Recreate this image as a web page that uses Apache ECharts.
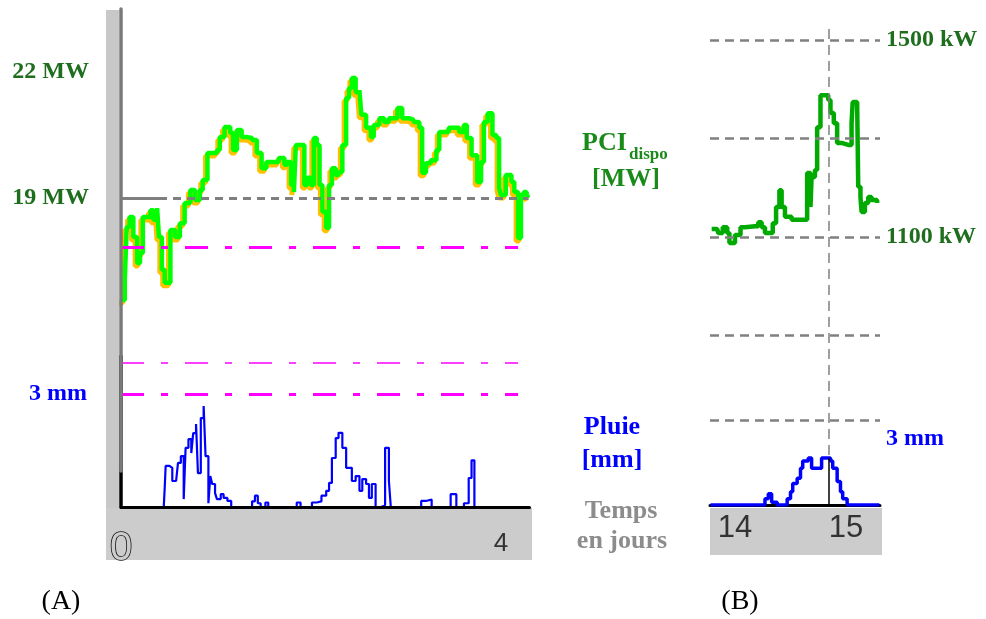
<!DOCTYPE html>
<html><head><meta charset="utf-8">
<script src="https://cdn.jsdelivr.net/npm/echarts@6/dist/echarts.min.js"></script>
<style>html,body{margin:0;padding:0;background:#fff}#c{width:986px;height:619px}</style>
</head><body><div id="c"></div>
<script>
// ---------- DATA ----------
// (A) PCI dispo [MW] versus time [days]
const pciDaysA = [0, 0.01, 0.04, 0.06, 0.09, 0.13, 0.17, 0.20, 0.23, 0.27, 0.31, 0.34, 0.38, 0.40, 0.43, 0.46, 0.49, 0.52, 0.57, 0.62, 0.67, 0.73, 0.78, 0.83, 0.86, 0.91, 0.96, 1.01, 1.04, 1.09, 1.15, 1.18, 1.22, 1.27, 1.33, 1.38, 1.43, 1.48, 1.53, 1.58, 1.63, 1.66, 1.72, 1.75, 1.79, 1.82, 1.84, 1.89, 1.93, 1.96, 2.00, 2.03, 2.06, 2.09, 2.12, 2.16, 2.19, 2.22, 2.26, 2.29, 2.33, 2.37, 2.40, 2.43, 2.47, 2.51, 2.53, 2.58, 2.63, 2.66, 2.72, 2.77, 2.82, 2.87, 2.91, 2.96, 3.03, 3.08, 3.14, 3.17, 3.21, 3.26, 3.32, 3.35, 3.40, 3.45, 3.51, 3.56, 3.61, 3.64, 3.69, 3.75, 3.79, 3.82, 3.86, 3.91, 3.95, 3.98, 4.00, 4.05, 4.11, 4.14, 4.18, 4.21, 4.24, 4.27, 4.29];
const pciMwA = [16.57, 16.57, 17.05, 18.31, 18.55, 18.07, 17.45, 17.69, 18.55, 18.55, 18.71, 18.48, 18.76, 18.07, 17.29, 16.98, 16.98, 18.24, 18.07, 18.40, 18.88, 19.19, 18.95, 19.19, 19.43, 20.07, 20.07, 20.14, 20.45, 20.69, 20.55, 20.14, 20.62, 20.45, 20.43, 20.38, 20.07, 19.71, 19.86, 19.86, 19.86, 19.95, 19.79, 19.86, 19.31, 19.14, 20.26, 20.26, 19.31, 19.48, 19.31, 20.43, 20.26, 19.31, 18.67, 18.29, 19.31, 19.71, 19.55, 19.62, 20.26, 21.38, 21.62, 21.86, 21.52, 21.57, 20.98, 20.67, 20.45, 20.74, 20.90, 20.81, 20.90, 20.90, 21.14, 20.90, 20.86, 20.81, 20.67, 19.60, 19.83, 19.90, 20.14, 20.57, 20.57, 20.67, 20.67, 20.57, 20.74, 20.43, 20.02, 19.38, 19.86, 20.81, 21.02, 20.50, 20.43, 19.24, 19.07, 19.55, 19.38, 19.14, 18.05, 19.07, 19.14, 19.07, 19.00];
// (A) Pluie [mm]
const rainDaysA = [0, 0.45, 0.46, 0.47, 0.51, 0.54, 0.58, 0.60, 0.63, 0.66, 0.68, 0.71, 0.74, 0.76, 0.79, 0.81, 0.84, 0.87, 0.89, 0.92, 0.94, 0.96, 0.99, 1.01, 1.05, 1.08, 1.12, 1.16, 1.38, 1.41, 1.44, 1.47, 1.52, 1.55, 1.85, 1.89, 2.01, 2.06, 2.11, 2.16, 2.19, 2.22, 2.26, 2.29, 2.33, 2.37, 2.40, 2.43, 2.47, 2.51, 2.54, 2.58, 2.61, 2.64, 2.68, 2.74, 2.78, 2.82, 2.84, 3.16, 3.21, 3.27, 3.47, 3.53, 3.61, 3.66, 3.69, 3.72, 4.30];
const rainMmA = [0, 0, 0.5, 1.09, 1.04, 0.69, 0.69, 1.17, 1.35, 0.21, 1.57, 1.8, 1.43, 1.96, 2.2, 0.9, 2.36, 2.68, 1.35, 0.1, 0.82, 0.61, 0.37, 0.21, 0.34, 0.24, 0.16, 0, 0.15, 0.3, 0.1, 0, 0.12, 0, 0.12, 0, 0.12, 0.15, 0.3, 0.43, 0.64, 1.3, 1.83, 1.97, 1.57, 1.04, 1.04, 0.69, 0.82, 0.43, 0.74, 0.61, 0.24, 0.61, 0, 0.05, 1.57, 0.69, 0, 0.16, 0.2, 0, 0.34, 0, 0.1, 0.77, 1.24, 0, 0];
// (B) PCI dispo [kW]
const pciDaysB = [13.79, 13.84, 13.85, 13.89, 13.93, 13.95, 14.00, 14.05, 14.09, 14.18, 14.21, 14.24, 14.27, 14.32, 14.34, 14.37, 14.40, 14.42, 14.45, 14.51, 14.63, 14.65, 14.68, 14.69, 14.72, 14.74, 14.77, 14.81, 14.84, 14.86, 14.89, 14.92, 14.96, 15.02, 15.05, 15.06, 15.10, 15.11, 15.13, 15.14, 15.17, 15.20, 15.23, 15.28];
const pciKwB = [1116, 1116, 1108, 1120, 1108, 1088, 1104, 1120, 1122, 1122, 1130, 1120, 1108, 1108, 1128, 1161, 1195, 1161, 1141, 1135, 1135, 1230, 1161, 1222, 1236, 1323, 1388, 1388, 1378, 1352, 1331, 1291, 1287, 1287, 1331, 1374, 1372, 1202, 1181, 1151, 1169, 1181, 1175, 1169];
// (B) Pluie [mm]
const rainDaysB = [13.78, 14.27, 14.30, 14.33, 14.38, 14.47, 14.50, 14.52, 14.56, 14.59, 14.61, 14.66, 14.69, 14.78, 14.86, 14.88, 14.92, 14.95, 14.97, 15.01, 15.30];
const rainMmB = [0, 0.22, 0.4, 0.1, 0, 0.22, 0.47, 0.76, 0.94, 1.3, 1.55, 1.66, 1.3, 1.66, 1.55, 1.3, 0.83, 0.47, 0.22, 0, 0];
// ticks / reference levels
const mwTicksA = [19, 22];
const dayTicksA = [0, 4];
const mmTicksA = [3];
const refMwA = 19;
const thresholdMwA = 17.83;
const rainThresholdsA = [3, 3.82];
const kwTicksB = [1100, 1500];
const kwGridB = [900, 1100, 1300, 1500];
const dayTicksB = [14, 15];
const mmTicksB = [3];
const peakDayB = 14.84;
const peakRainB = 1.66;

// ---------- STYLE ----------
const serif = '"Liberation Serif", "Times New Roman", serif';
const sans = '"Liberation Sans", Arial, sans-serif';
const darkGreen = '#1e6e1e';
const titleGreen = '#1a8a1a';
const magentaDash = [23, 17, 7, 17];
const pairs = (xs, ys) => xs.map((x, i) => [x, ys[i]]);
const noAxisBits = { axisTick: { show: false }, splitLine: { show: false } };

const chart = echarts.init(document.getElementById('c'), null, { renderer: 'canvas' });
const option = {
  animation: false,
  backgroundColor: '#ffffff',
  grid: [
    { left: 121, top: 9, width: 408.5, height: 462 },
    { left: 119, top: 12, width: 408.5, height: 462 },
    { left: 121, top: 356.3, width: 408.5, height: 150.7 },
    { left: 710, top: 25, width: 170, height: 430 },
    { left: 710, top: 420, width: 170, height: 85 }
  ],
  xAxis: [
    { gridIndex: 0, type: 'value', min: 0, max: 4.3, show: false },
    { gridIndex: 1, type: 'value', min: 0, max: 4.3, show: false },
    { gridIndex: 2, type: 'value', min: 0, max: 4.3, z: 6, ...noAxisBits,
      axisLine: { onZero: false, lineStyle: { color: '#000', width: 3 } },
      axisLabel: { customValues: dayTicksA, margin: 24, color: '#333', fontFamily: sans, fontSize: 26,
        formatter: v => v === 0 ? '{z|0}' : String(v),
        rich: { z: { fontFamily: sans, fontSize: 40, lineHeight: 36, color: '#cccccc', textBorderColor: '#111', textBorderWidth: 1.6 } } } },
    { gridIndex: 3, type: 'value', min: 13.775, max: 15.306, show: false },
    { gridIndex: 4, type: 'value', min: 13.775, max: 15.306, z: 1, ...noAxisBits,
      axisLine: { onZero: false, lineStyle: { color: '#000', width: 3 } },
      axisLabel: { customValues: dayTicksB, margin: 8, color: '#333', fontFamily: sans, fontSize: 31 } }
  ],
  yAxis: [
    { gridIndex: 0, type: 'value', min: 12.5, max: 23.5, z: 5, ...noAxisBits,
      axisLine: { show: true, onZero: false, lineStyle: { color: '#7a7a7a', width: 3.5 } },
      axisLabel: { customValues: mwTicksA, formatter: v => v + ' MW', margin: 32, color: darkGreen, fontFamily: serif, fontWeight: 'bold', fontSize: 24 } },
    { gridIndex: 1, type: 'value', min: 12.5, max: 23.5, show: false },
    { gridIndex: 2, type: 'value', min: 0, max: 4, z: 4, ...noAxisBits,
      axisLine: { show: true, onZero: false, lineStyle: { color: '#000', width: 3.5 } },
      axisLabel: { customValues: mmTicksA, formatter: v => v + ' mm', margin: 34, color: '#0000ff', fontFamily: serif, fontWeight: 'bold', fontSize: 24 } },
    { gridIndex: 3, type: 'value', min: 657.36, max: 1530.46, position: 'right', ...noAxisBits,
      axisLine: { show: false },
      axisLabel: { customValues: kwTicksB, formatter: v => v + ' kW', margin: 6, padding: [7, 0, 0, 0], color: darkGreen, fontFamily: serif, fontWeight: 'bold', fontSize: 24 } },
    { gridIndex: 4, type: 'value', min: 0, max: 3, position: 'right', ...noAxisBits,
      axisLine: { show: false },
      axisLabel: { customValues: mmTicksB, formatter: v => v + ' mm', margin: 6, verticalAlign: 'top', padding: [7, 0, 0, 0], color: '#0000ff', fontFamily: serif, fontWeight: 'bold', fontSize: 24 } }
  ],
  series: [
    { type: 'line', name: 'PCI ombre', xAxisIndex: 1, yAxisIndex: 1, data: pairs(pciDaysA, pciMwA), step: 'end', symbol: 'none', z: 2,
      lineStyle: { color: '#ffc000', width: 5 } },
    { type: 'line', name: 'PCI dispo', xAxisIndex: 0, yAxisIndex: 0, data: pairs(pciDaysA, pciMwA), step: 'end', symbol: 'none', z: 3,
      lineStyle: { color: '#00ff00', width: 4.5 },
      markLine: { silent: true, symbol: 'none', label: { show: false }, data: [
        [{ coord: [0, refMwA], lineStyle: { color: '#7f7f7f', width: 3, type: 'solid' } }, { coord: [0.4, refMwA] }],
        [{ coord: [0.4, refMwA], lineStyle: { color: '#7f7f7f', width: 3, type: [8, 6] } }, { coord: [4.29, refMwA] }],
        [{ coord: [0, thresholdMwA], lineStyle: { color: '#ff00ff', width: 3, type: magentaDash } }, { coord: [4.18, thresholdMwA] }]
      ] } },
    { type: 'line', name: 'Pluie A', xAxisIndex: 2, yAxisIndex: 2, data: pairs(rainDaysA, rainMmA), step: 'end', symbol: 'none', z: 2,
      lineStyle: { color: '#0000ff', width: 2.2 },
      markLine: { silent: true, symbol: 'none', label: { show: false }, data: [
        [{ coord: [0, rainThresholdsA[0]], lineStyle: { color: '#ff00ff', width: 3, type: magentaDash } }, { coord: [4.18, rainThresholdsA[0]] }],
        [{ coord: [0, rainThresholdsA[1]], lineStyle: { color: '#ff00ff', width: 1.5, type: magentaDash } }, { coord: [4.18, rainThresholdsA[1]] }]
      ] } },
    { type: 'line', name: 'PCI B', xAxisIndex: 3, yAxisIndex: 3, data: pairs(pciDaysB, pciKwB), step: 'end', symbol: 'none', z: 3,
      lineStyle: { color: '#00aa00', width: 4.5 },
      markLine: { silent: true, symbol: 'none', label: { show: false }, data:
        kwGridB.map(v => ({ yAxis: v, lineStyle: { color: '#808080', width: 2.5, type: [9, 6] } }))
          .concat([{ xAxis: peakDayB, lineStyle: { color: '#808080', width: 1.5, type: [10, 6] } }]) } },
    { type: 'line', name: 'Pluie B', xAxisIndex: 4, yAxisIndex: 4, data: pairs(rainDaysB, rainMmB), step: 'end', symbol: 'none', z: 3,
      lineStyle: { color: '#0000ff', width: 3.5 },
      markLine: { silent: true, symbol: 'none', label: { show: false }, data: [
        { yAxis: mmTicksB[0], lineStyle: { color: '#808080', width: 2.5, type: [9, 6] } },
        [{ coord: [peakDayB, 0], lineStyle: { color: '#000', width: 1.5, type: 'solid' } }, { coord: [peakDayB, peakRainB] }]
      ] } }
  ],
  graphic: { elements: [
    { type: 'rect', z: -10, shape: { x: 106, y: 10, width: 13, height: 550 }, style: { fill: '#c8c8c8' } },
    { type: 'rect', z: -10, shape: { x: 106, y: 508, width: 426, height: 52 }, style: { fill: '#cccccc' } },
    { type: 'rect', z: -10, shape: { x: 710, y: 508, width: 172, height: 47 }, style: { fill: '#cccccc' } },
    { type: 'text', x: 582, y: 143, style: { text: 'PCI', font: 'bold 26px ' + serif, fill: titleGreen, align: 'left', verticalAlign: 'middle' } },
    { type: 'text', x: 629, y: 155, style: { text: 'dispo', font: 'bold 17px ' + serif, fill: titleGreen, align: 'left', verticalAlign: 'middle' } },
    { type: 'text', x: 626, y: 179, style: { text: '[MW]', font: 'bold 26px ' + serif, fill: titleGreen, align: 'center', verticalAlign: 'middle' } },
    { type: 'text', x: 612, y: 427, style: { text: 'Pluie', font: 'bold 26px ' + serif, fill: '#0000ff', align: 'center', verticalAlign: 'middle' } },
    { type: 'text', x: 612, y: 460, style: { text: '[mm]', font: 'bold 26px ' + serif, fill: '#0000ff', align: 'center', verticalAlign: 'middle' } },
    { type: 'text', x: 621, y: 511, style: { text: 'Temps', font: 'bold 26px ' + serif, fill: '#8c8c8c', align: 'center', verticalAlign: 'middle' } },
    { type: 'text', x: 622, y: 541, style: { text: 'en jours', font: 'bold 26px ' + serif, fill: '#8c8c8c', align: 'center', verticalAlign: 'middle' } },
    { type: 'text', x: 61, y: 602, style: { text: '(A)', font: '28px ' + serif, fill: '#000', align: 'center', verticalAlign: 'middle' } },
    { type: 'text', x: 740, y: 602, style: { text: '(B)', font: '28px ' + serif, fill: '#000', align: 'center', verticalAlign: 'middle' } }
  ] }
};
chart.setOption(option);
</script>
</body></html>
